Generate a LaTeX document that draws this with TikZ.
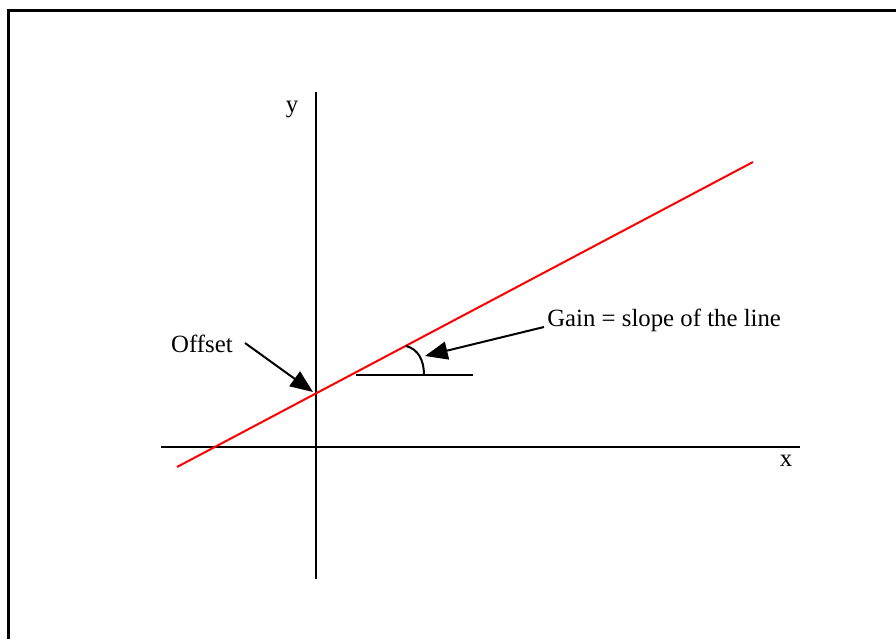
\documentclass[tikz,border=0pt]{standalone}
\usepackage{fontspec}
\setmainfont{Liberation Serif}
\usetikzlibrary{arrows.meta}
\begin{document}
\begin{tikzpicture}[x=0.75pt,y=-0.75pt,
	axis/.style = {line width=1.5pt},
	pointer/.style = {line width=1.5pt, -{Triangle[length=17pt,width=13.5pt]}},
	every node/.style = {font=\fontsize{18.6}{22}\selectfont}]
	\useasboundingbox (0,0) rectangle (896,639);
	% frame (cut at right and bottom)
	\draw [line width=2.25pt] (8,639) -- (8,10) -- (896,10);
	% axes
	\coordinate (xstart) at (161,447);
	\coordinate (xend) at (800,447);
	\coordinate (ystart) at (316,92);
	\coordinate (yend) at (316,579);
	\draw [axis] (xstart) -- (xend);
	\draw [axis] (ystart) -- (yend);
	\node (ylab) at (292,109) {y};
	\node (xlab) at (786,461) {x};
	% the line
	\coordinate (lstart) at (177,467);
	\coordinate (lend) at (753,162);
	\draw [red, line width=1.5pt] (lstart) -- (lend);
	% angle
	\coordinate (hstart) at (356,375);
	\coordinate (hend) at (473,375);
	\coordinate (arcstart) at (406,346);
	\coordinate (arcend) at (424,375);
	\draw [axis] (hstart) -- (hend);
	\draw [axis] (arcstart) .. controls (418,349) and (424,360) .. (arcend);
	% labels
	\node (offset) at (202,344) {Offset};
	\coordinate (offtail) at (245,343);
	\coordinate (icept) at (313,392);
	\draw [pointer] (offtail) -- (icept);
	\node [anchor=west, inner sep=0pt] (gain) at (547,320) {Gain = slope of the line};
	\coordinate (gaintail) at (544,327);
	\coordinate (gaintip) at (425,356);
	\draw [pointer] (gaintail) -- (gaintip);
\end{tikzpicture}
\end{document}
